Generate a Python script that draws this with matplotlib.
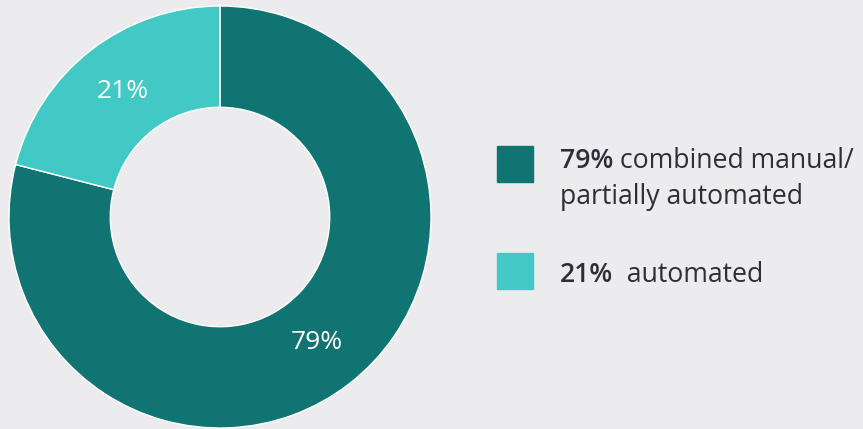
import matplotlib
matplotlib.use("Agg")
import matplotlib.pyplot as plt
from matplotlib.patches import Rectangle

# data
labels = ["combined manual/\npartially automated", "automated"]
values = [79, 21]
colors = ["#0F7472", "#43C9C5"]
bg = "#ECECEE"
txt_color = "#2E2E38"

W, H = 863, 429
fig = plt.figure(figsize=(W / 100, H / 100), dpi=100, facecolor=bg)
plt.rcParams["font.family"] = ["Open Sans", "DejaVu Sans"]

# donut axes: centre (220,217), radius 211 px
cx, cy, r = 220, 217, 211
ax = fig.add_axes([(cx - r) / W, (H - cy - r) / H, 2 * r / W, 2 * r / H])
ax.set_facecolor(bg)
wedges, texts, autotexts = ax.pie(
    values, colors=colors, startangle=90, counterclock=False, radius=1,
    autopct="%d%%", pctdistance=0.75,
    wedgeprops=dict(width=0.48, edgecolor="white", linewidth=1),
    textprops=dict(color="white", fontsize=19))
ax.set_xlim(-1, 1)
ax.set_ylim(-1, 1)
ax.set_aspect("equal")
ax.axis("off")

# legend
def fy(y):
    return 1 - y / H

boxes = [(497, 146), (497, 253)]
for (bx, by), c in zip(boxes, colors):
    fig.patches.append(Rectangle((bx / W, fy(by + 36)), 36 / W, 36 / H,
                                 transform=fig.transFigure, color=c))

baselines = [168, 282]
lines = labels
for i, v in enumerate(values):
    t = fig.text(560 / W, fy(baselines[i]), f"{v}%", fontsize=19.2,
                 fontweight="semibold", color=txt_color, va="baseline")
    first, *rest = lines[i].split("\n")
    sep = " " if i == 0 else "  "
    ann = fig.text(0, 0, sep + first, fontsize=19.2, color=txt_color, va="baseline")
    fig.canvas.draw()
    bb = t.get_window_extent()
    ann.set_position((bb.x1 / W, fy(baselines[i])))
    for k, s in enumerate(rest):
        fig.text(560 / W, fy(baselines[i] + 36 * (k + 1)), s, fontsize=19.2,
                 color=txt_color, va="baseline")

fig.savefig("out.png", dpi=100, facecolor=bg)
